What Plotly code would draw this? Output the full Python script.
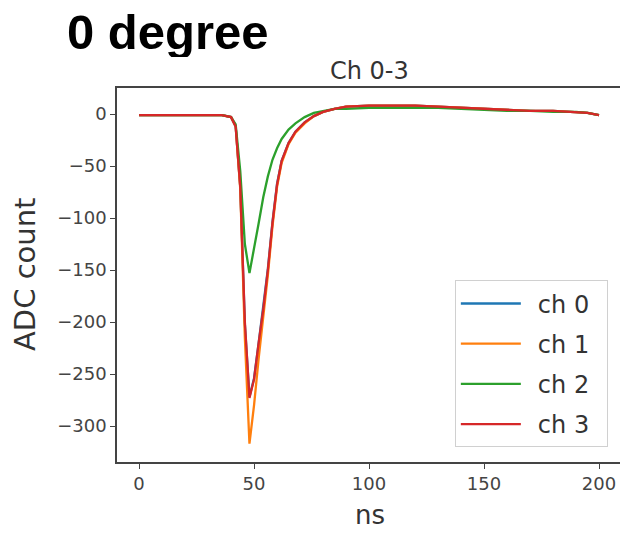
import plotly.graph_objects as go

# sample times (ns) and ADC counts per channel
t_ns = [0, 10, 20, 30, 36, 40, 42, 44, 46, 48, 50, 52, 54, 56, 58, 60, 62, 65, 68,
        72, 76, 80, 85, 90, 100, 110, 120, 130, 140, 150, 160, 170, 180, 190, 195, 200]

ch0 = [-1, -1, -1, -1, -1, -3, -12, -70, -202, -272, -254, -220, -187, -149, -104, -67,
       -45, -28, -17, -8, -2, 2, 5, 7, 8, 8, 8, 7, 6, 5, 4, 3, 3, 2, 1, -1]
ch1 = [-1, -1, -1, -1, -1, -3, -12, -72, -215, -317, -280, -235, -195, -155, -108, -70,
       -47, -29, -18, -9, -2, 2, 5, 7, 8, 8, 8, 7, 6, 5, 4, 3, 3, 2, 1, -1]
ch2 = [-1, -1, -1, -1, -1, -3, -10, -55, -125, -153, -130, -105, -80, -60, -44, -33,
       -24, -15, -9, -3, 1, 3, 5, 5, 6, 6, 6, 6, 5, 4, 3, 3, 2, 2, 1, -1]
ch3 = [-1, -1, -1, -1, -1, -3, -12, -70, -200, -273, -255, -220, -188, -150, -105, -68,
       -45, -28, -17, -8, -2, 2, 5, 7, 8, 8, 8, 7, 6, 5, 4, 3, 3, 2, 1, -1]

names = ["ch 0", "ch 1", "ch 2", "ch 3"]
series = [ch0, ch1, ch2, ch3]
colors = ["#1f77b4", "#ff7f0e", "#2ca02c", "#d62728"]

x_ticks = [0, 50, 100, 150, 200]
y_ticks = [0, -50, -100, -150, -200, -250, -300]

fig = go.Figure()
for name, vals, col in zip(names, series, colors):
    fig.add_trace(go.Scatter(
        x=t_ns, y=vals, name="\u2002" + name + "\u2002", mode="lines",
        line=dict(color=col, width=2.3),
        legendgroup=name,
    ))

axis_common = dict(
    showgrid=False, zeroline=False, showline=True, mirror=True, automargin=False,
    linecolor="#444444", linewidth=1.5,
    ticks="outside", ticklen=5, tickwidth=1.2, tickcolor="#444444",
    tickfont=dict(family="DejaVu Sans", size=18, color="#444444"),
)

# page body adds an 8px offset, so the figure is drawn 8px smaller
fig.update_layout(
    width=620, height=527,
    paper_bgcolor="white", plot_bgcolor="white",
    margin=dict(l=109, r=6, t=80, b=73),
    showlegend=True,
    legend=dict(
        x=0.669, y=0.039, xanchor="left", yanchor="bottom",
        bgcolor="white", bordercolor="#d0d0d0", borderwidth=1,
        font=dict(family="DejaVu Sans", size=24, color="#333333"),
        itemwidth=60, tracegroupgap=6,
    ),
    xaxis=dict(range=[-9.6, 210], tickvals=x_ticks, **axis_common),
    yaxis=dict(range=[-334.6, 25], tickvals=y_ticks, **axis_common),
    annotations=[
        dict(text="<b>0 degree</b>", xref="paper", yref="paper", x=-0.102, y=1.0,
             xanchor="left", yanchor="middle", yshift=56, height=50, valign="middle",
             showarrow=False,
             font=dict(family="Liberation Sans", size=49, color="black")),
        dict(text="Ch 0-3", xref="paper", yref="paper", x=0.5, y=1.0,
             xanchor="center", yanchor="middle", yshift=17, showarrow=False,
             font=dict(family="DejaVu Sans", size=24, color="#333333")),
        dict(text="ns", xref="paper", yref="paper", x=0.5, y=0.0,
             xanchor="center", yanchor="middle", yshift=-53, showarrow=False,
             font=dict(family="DejaVu Sans", size=26, color="#333333")),
        dict(text="ADC count", xref="paper", yref="paper", x=0.0, y=0.5,
             xanchor="center", yanchor="middle", xshift=-92, textangle=-90,
             showarrow=False,
             font=dict(family="DejaVu Sans", size=29, color="#333333")),
    ],
)

fig.write_html("out.html")
